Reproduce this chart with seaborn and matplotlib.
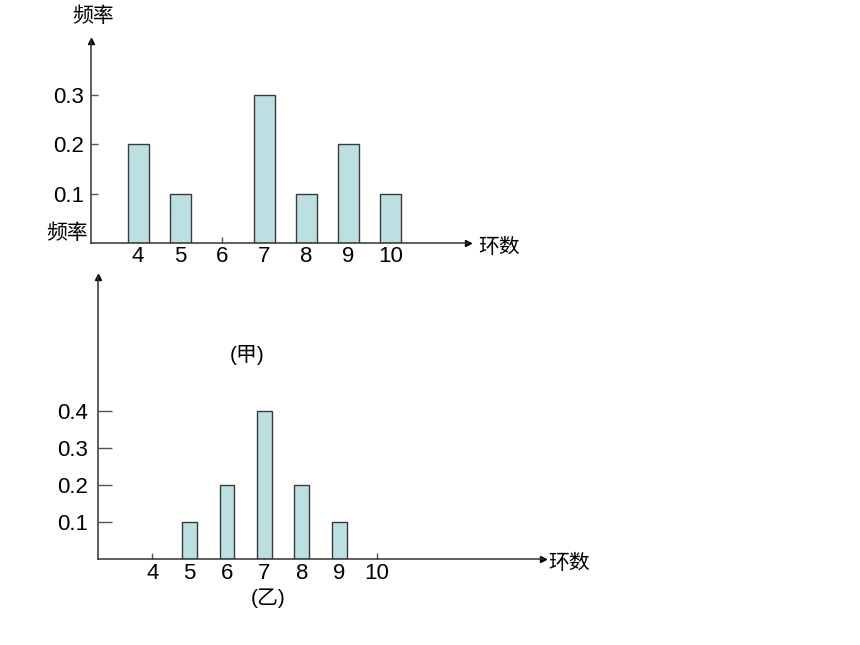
"""甲、乙两人射击环数频率条形图"""

import matplotlib
matplotlib.use("Agg")
import matplotlib.pyplot as plt
import seaborn as sns

# 甲
rings_jia = [4, 5, 7, 8, 9, 10]
freq_jia = [0.2, 0.1, 0.3, 0.1, 0.2, 0.1]
# 乙
rings_yi = [5, 6, 7, 8, 9]
freq_yi = [0.1, 0.2, 0.4, 0.2, 0.1]

x_ticks = [4, 5, 6, 7, 8, 9, 10]
y_ticks_jia = [0.1, 0.2, 0.3]
y_ticks_yi = [0.1, 0.2, 0.3, 0.4]

BAR_FILL = "#BCDFE1"
BAR_EDGE = "#3a3a3a"
AXIS_COL = "#333333"

sns.set_style("white")
plt.rcParams["font.family"] = ["Liberation Sans", "Noto Sans CJK SC", "DejaVu Sans"]
plt.rcParams["text.color"] = "black"
plt.rcParams["xtick.color"] = "#555555"
plt.rcParams["ytick.color"] = "#555555"
plt.rcParams["xtick.labelcolor"] = "black"
plt.rcParams["ytick.labelcolor"] = "black"

W, H = 860, 645
fig = plt.figure(figsize=(W / 100, H / 100), dpi=100)


def px_axes(left, top, right, bottom):
    return fig.add_axes([left / W, 1 - bottom / H, (right - left) / W, (bottom - top) / H])


def style_axes(ax, ytick_len, ytick_pad, xtick_pad):
    for s in ["top", "right"]:
        ax.spines[s].set_visible(False)
    for s in ["left", "bottom"]:
        ax.spines[s].set_color(AXIS_COL)
        ax.spines[s].set_linewidth(1.1)
    ax.tick_params(axis="y", left=True, direction="in", length=ytick_len, width=1,
                   pad=ytick_pad, labelsize=16)
    ax.tick_params(axis="x", bottom=True, direction="in", length=4.5, width=1,
                   pad=xtick_pad, labelsize=16)
    ax.plot(0, 1, "^", color="black", ms=5, transform=ax.transAxes, clip_on=False)
    ax.plot(1, 0, ">", color="black", ms=5, transform=ax.transAxes, clip_on=False)
    ax.set_xlabel("")
    ax.set_ylabel("")


# 上图（甲）
ax1 = px_axes(91, 41, 468, 243)
sns.barplot(x=rings_jia, y=freq_jia, native_scale=True, width=0.5,
            color=BAR_FILL, saturation=1, edgecolor=BAR_EDGE, linewidth=1, ax=ax1)
ax1.set_xlim(2.88, 11.85)
ax1.set_ylim(0, 0.41)
ax1.set_xticks(x_ticks)
ax1.set_xticklabels([str(v) for v in x_ticks])
ax1.set_yticks(y_ticks_jia)
ax1.set_yticklabels([f"{v:.1f}" for v in y_ticks_jia])
style_axes(ax1, 5, 5, 2)

# 下图（乙）
ax2 = px_axes(98, 277, 543, 559)
sns.barplot(x=rings_yi, y=freq_yi, native_scale=True, width=0.4,
            color=BAR_FILL, saturation=1, edgecolor=BAR_EDGE, linewidth=1, ax=ax2)
ax2.set_xlim(2.55, 14.45)
ax2.set_ylim(0, 0.76)
ax2.set_xticks(x_ticks)
ax2.set_xticklabels([str(v) for v in x_ticks])
ax2.set_yticks(y_ticks_yi)
ax2.set_yticklabels([f"{v:.1f}" for v in y_ticks_yi])
style_axes(ax2, 10, 7, 3)


def txt(x, y, s):
    fig.text(x / W, 1 - y / H, s, ha="center", va="center", fontsize=15)


txt(93, 16, "频率")
txt(67, 233, "频率")
txt(499, 247, "环数")
txt(569, 563, "环数")
txt(247, 355, "(甲)")
txt(268, 598, "(乙)")

fig.savefig("out.png", dpi=100)
